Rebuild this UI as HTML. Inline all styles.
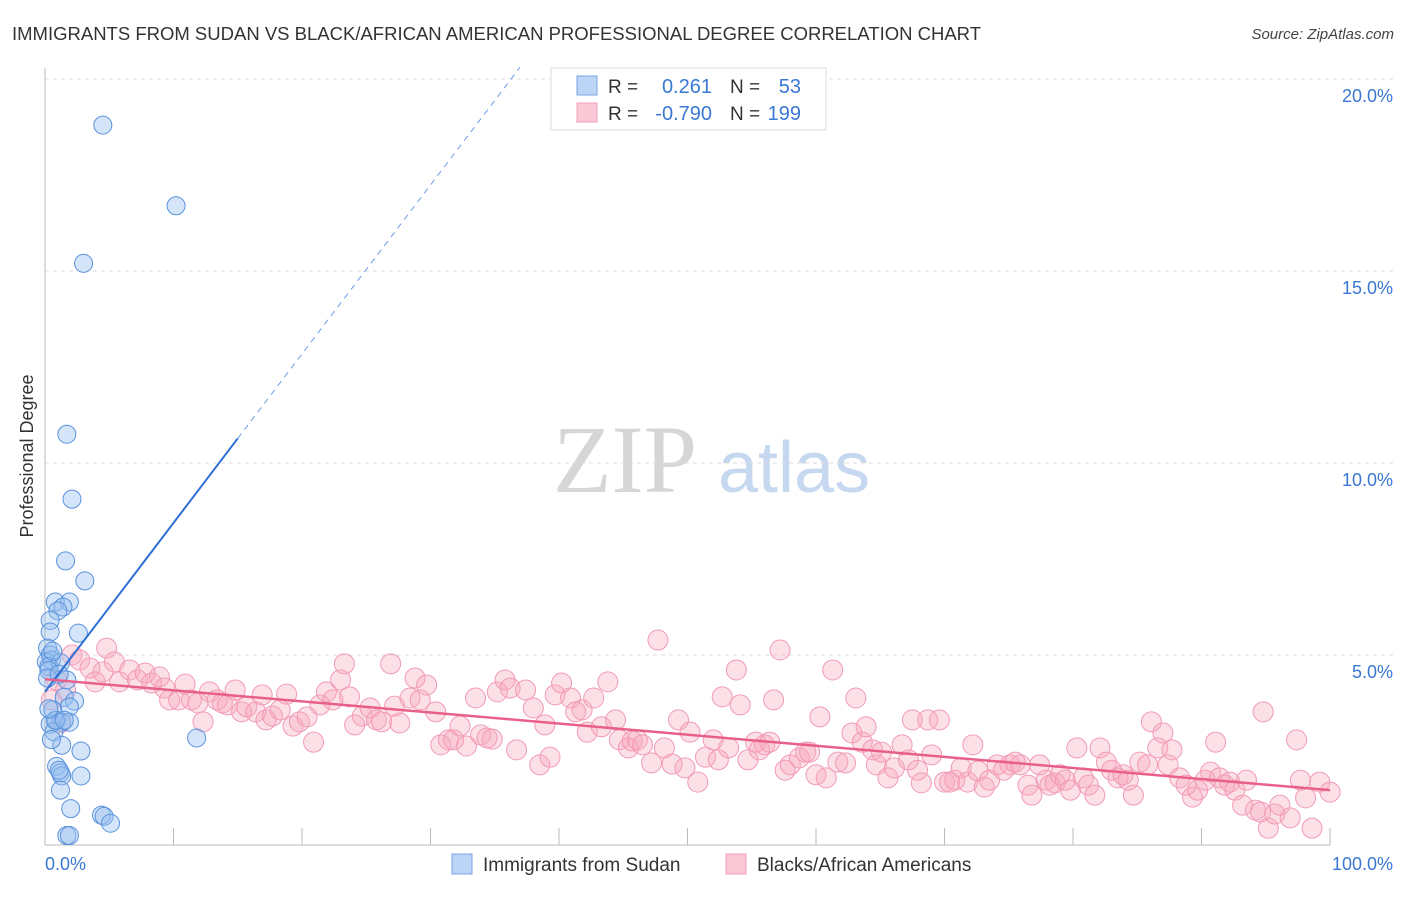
<!DOCTYPE html>
<html><head><meta charset="utf-8"><style>
body{margin:0;background:#fff;font-family:"Liberation Sans",sans-serif}
</style></head><body>
<svg id="chart" width="1406" height="892" xmlns="http://www.w3.org/2000/svg">
<text x="12" y="40" font-size="18.5" fill="#333">IMMIGRANTS FROM SUDAN VS BLACK/AFRICAN AMERICAN PROFESSIONAL DEGREE CORRELATION CHART</text>
<text x="1394" y="39" font-size="15" fill="#444" font-style="italic" text-anchor="end">Source: ZipAtlas.com</text>
<g>
<text x="553" y="492" font-family="Liberation Serif,serif" font-size="96" fill="#d6d6d6">ZIP</text>
<text x="718" y="492" font-size="72" fill="#c5d8f0">atlas</text>
</g>
<g id="grid"></g>
<g id="axes"></g>
<g id="pink"></g>
<g id="blue"></g>
<g id="lines"></g>
<text transform="translate(33,456) rotate(-90)" font-size="18" fill="#333" text-anchor="middle">Professional Degree</text>
<g>
<rect x="551" y="68" width="275" height="62" fill="#fff" stroke="#ddd"/>
<rect x="577" y="76" width="20" height="19" fill="#bcd4f5" stroke="#7aa6e6"/>
<rect x="577" y="103" width="20" height="19" fill="#fac8d7" stroke="#f0a0b8"/>
<text x="608" y="93" font-size="19" fill="#333">R =</text>
<text x="712" y="93" font-size="20" fill="#3a78d4" text-anchor="end">0.261</text>
<text x="730" y="93" font-size="19" fill="#333">N =</text>
<text x="801" y="93" font-size="20" fill="#3a78d4" text-anchor="end">53</text>
<text x="608" y="120" font-size="19" fill="#333">R =</text>
<text x="712" y="120" font-size="20" fill="#3a78d4" text-anchor="end">-0.790</text>
<text x="730" y="120" font-size="19" fill="#333">N =</text>
<text x="801" y="120" font-size="20" fill="#3a78d4" text-anchor="end">199</text>
</g>
<g>
<rect x="452" y="854" width="20" height="20" fill="#bcd4f5" stroke="#7aa6e6"/>
<text x="483" y="871" font-size="19" fill="#333">Immigrants from Sudan</text>
<rect x="726" y="854" width="20" height="20" fill="#fac8d7" stroke="#f0a0b8"/>
<text x="757" y="871" font-size="19" fill="#333">Blacks/African Americans</text>
</g>
</svg>
<script>
const yTicks=[5,10,15,20];
const yTickLabels=["5.0%","10.0%","15.0%","20.0%"];
const xTickVals=[0,10,20,30,40,50,60,70,80,90,100];
const blueX=[4.5,10.2,3.0,1.7,2.1,1.6,3.1,0.8,1.9,1.4,1.0,0.4,0.4,2.6,0.2,0.4,0.5,0.1,0.3,1.2,1.7,1.5,2.3,1.9,0.6,0.9,1.3,1.9,0.4,0.7,1.3,2.8,11.8,0.9,1.2,1.3,2.8,1.2,4.4,4.6,5.1,1.7,1.9,0.3,0.6,0.2,1.1,0.8,1.5,0.5,1.1,2.0,0.3];
const blueY=[18.8,16.7,15.2,10.75,9.06,7.45,6.93,6.38,6.38,6.25,6.15,5.9,5.6,5.57,5.18,5.0,4.87,4.82,4.7,4.8,4.35,3.9,3.8,3.65,3.57,3.3,3.25,3.25,3.2,3.0,2.65,2.5,2.84,2.1,1.93,1.85,1.85,1.48,0.83,0.8,0.62,0.3,0.3,4.6,5.1,4.4,4.5,3.3,3.3,2.8,2.0,1.0,3.6];
const pinkX=[1.2,0.5,0.9,1.6,2.1,2.7,3.5,3.9,4.5,4.8,5.4,5.8,6.6,7.2,7.8,8.3,8.9,9.3,9.7,10.4,10.9,11.4,11.9,12.3,12.8,13.4,13.8,14.2,14.8,15.3,15.7,16.4,16.9,17.2,17.7,18.3,18.8,19.3,19.8,20.4,20.9,21.4,21.9,22.4,23.0,23.3,23.7,24.1,24.7,25.3,25.8,26.2,26.9,27.2,27.6,28.4,28.8,29.2,29.7,30.4,30.8,31.4,31.8,32.3,32.8,33.5,33.9,34.4,34.8,35.2,35.8,36.2,36.7,37.4,38.0,38.5,38.9,39.3,39.7,40.2,40.9,41.3,41.8,42.2,42.7,43.3,43.8,44.4,44.7,45.4,45.7,46.1,46.5,47.2,47.7,48.2,48.8,49.3,49.8,50.2,50.8,51.4,52.0,52.4,52.7,53.2,53.8,54.1,54.7,55.3,55.6,56.0,56.4,56.7,57.2,57.6,58.0,58.7,59.2,59.5,60.0,60.3,60.8,61.3,61.7,62.3,62.8,63.1,63.6,63.9,64.4,64.7,65.1,65.6,66.1,66.7,67.2,67.5,67.9,68.2,68.7,69.0,69.6,70.0,70.4,70.8,71.3,71.8,72.2,72.6,73.1,73.5,74.1,74.6,75.1,75.5,75.9,76.5,76.8,77.4,77.9,78.2,78.6,79.0,79.4,79.8,80.3,80.8,81.2,81.7,82.1,82.6,83.0,83.5,83.9,84.3,84.7,85.2,85.8,86.1,86.6,87.0,87.4,87.7,88.3,88.8,89.3,89.7,90.3,90.7,91.1,91.4,91.8,92.2,92.6,93.2,93.5,94.2,94.6,94.8,95.2,95.7,96.1,96.9,97.4,97.7,98.1,98.6,99.2,100];
const pinkY=[3.23,3.83,4.35,4.09,5.0,4.87,4.66,4.3,4.56,5.18,4.82,4.3,4.61,4.35,4.53,4.27,4.43,4.14,3.83,3.83,4.24,3.83,3.75,3.26,4.04,3.83,3.75,3.7,4.09,3.52,3.65,3.52,3.96,3.31,3.41,3.57,3.98,3.15,3.26,3.39,2.73,3.7,4.04,3.83,4.35,4.77,3.91,3.18,3.41,3.62,3.31,3.26,4.77,3.67,3.23,3.88,4.4,3.83,4.22,3.52,2.66,2.79,2.79,3.15,2.63,3.88,2.92,2.84,2.81,4.04,4.35,4.14,2.53,4.09,3.62,2.14,3.18,2.34,3.96,4.27,3.88,3.52,3.57,2.99,3.88,3.13,4.3,3.31,2.79,2.58,2.76,2.79,2.66,2.19,5.39,2.58,2.16,3.31,2.06,2.99,1.69,2.34,2.79,2.27,3.91,2.58,4.61,3.7,2.27,2.73,2.53,2.66,2.73,3.83,5.13,2.0,2.14,2.32,2.47,2.47,1.88,3.39,1.8,4.61,2.21,2.19,2.97,3.88,2.73,3.13,2.53,2.14,2.47,1.8,2.06,2.66,2.27,3.31,2.0,1.67,3.31,2.4,3.31,1.69,1.69,1.74,2.06,1.69,2.66,1.98,1.56,1.74,2.14,2.0,2.14,2.21,2.14,1.61,1.35,2.14,1.74,1.61,1.67,1.88,1.74,1.48,2.58,1.8,1.61,1.35,2.58,2.21,2.0,1.8,1.88,1.74,1.35,2.21,2.14,3.26,2.58,2.97,2.14,2.53,1.8,1.61,1.3,1.48,1.74,1.95,2.73,1.8,1.61,1.69,1.48,1.09,1.74,0.96,0.91,3.52,0.49,0.86,1.09,0.76,2.79,1.74,1.28,0.49,1.69,1.43];
const blueFit=[4.04,0.44]; // intercept, slope
const pinkFit=[4.37,-0.0289];

const NS="http://www.w3.org/2000/svg";
const X0=45,X1=1330,Y0=847,PX=38.4;
const sx=v=>X0+(X1-X0)*v/100;
const sy=v=>Y0-v*PX;
function mk(tag,attrs,parent){const e=document.createElementNS(NS,tag);for(const k in attrs)e.setAttribute(k,attrs[k]);document.getElementById(parent).appendChild(e);return e;}

yTicks.forEach((t,i)=>{
  const g=mk('line',{x1:X0,x2:1393,y1:sy(t),y2:sy(t),stroke:'#ddd','stroke-dasharray':'4,4'},'grid');
  
  
  const l=mk('text',{x:1393,y:sy(t)+23,'font-size':18,fill:'#3a78d4','text-anchor':'end'},'grid');
  l.textContent=yTickLabels[i];
  
  
});
const ax=mk('line',{x1:X0,x2:X0,y1:68,y2:845,stroke:'#bbb'},'axes');


const bx=mk('line',{x1:X0,x2:X1,y1:845,y2:845,stroke:'#bbb'},'axes');


xTickVals.forEach(v=>{
  const t=mk('line',{x1:sx(v),x2:sx(v),y1:828,y2:845,stroke:'#bbb'},'axes');
  
  
});
const xl0=mk('text',{x:45,y:870,'font-size':18,fill:'#3a78d4'},'axes');xl0.textContent='0.0%';


const xl1=mk('text',{x:1393,y:870,'font-size':18,fill:'#3a78d4','text-anchor':'end'},'axes');xl1.textContent='100.0%';



pinkX.forEach((x,i)=>{
  const c=mk('circle',{cx:sx(x),cy:sy(pinkY[i]),r:10,fill:'rgba(245,165,190,0.35)',stroke:'#f29ab5','stroke-width':1},'pink');
  
  
});
blueX.forEach((x,i)=>{
  const c=mk('circle',{cx:sx(x),cy:sy(blueY[i]),r:9,fill:'rgba(150,190,240,0.4)',stroke:'#5a92dc','stroke-width':1},'blue');
  
  
});
const bf=x=>blueFit[0]+blueFit[1]*x;
const pf=x=>pinkFit[0]+pinkFit[1]*x;
const xEnd=(20.3-blueFit[0])/blueFit[1];
const l1=mk('line',{x1:sx(0),y1:sy(bf(0)),x2:sx(15),y2:sy(bf(15)),stroke:'#2f6fd6','stroke-width':2},'lines');


const l2=mk('line',{x1:sx(15),y1:sy(bf(15)),x2:sx(xEnd),y2:sy(bf(xEnd)),stroke:'#6d9ee6','stroke-width':1,'stroke-dasharray':'6,5'},'lines');


const l3=mk('line',{x1:sx(0),y1:sy(pf(0)),x2:sx(100),y2:sy(pf(100)),stroke:'#e8608a','stroke-width':2.5},'lines');


</script>
</body></html>
